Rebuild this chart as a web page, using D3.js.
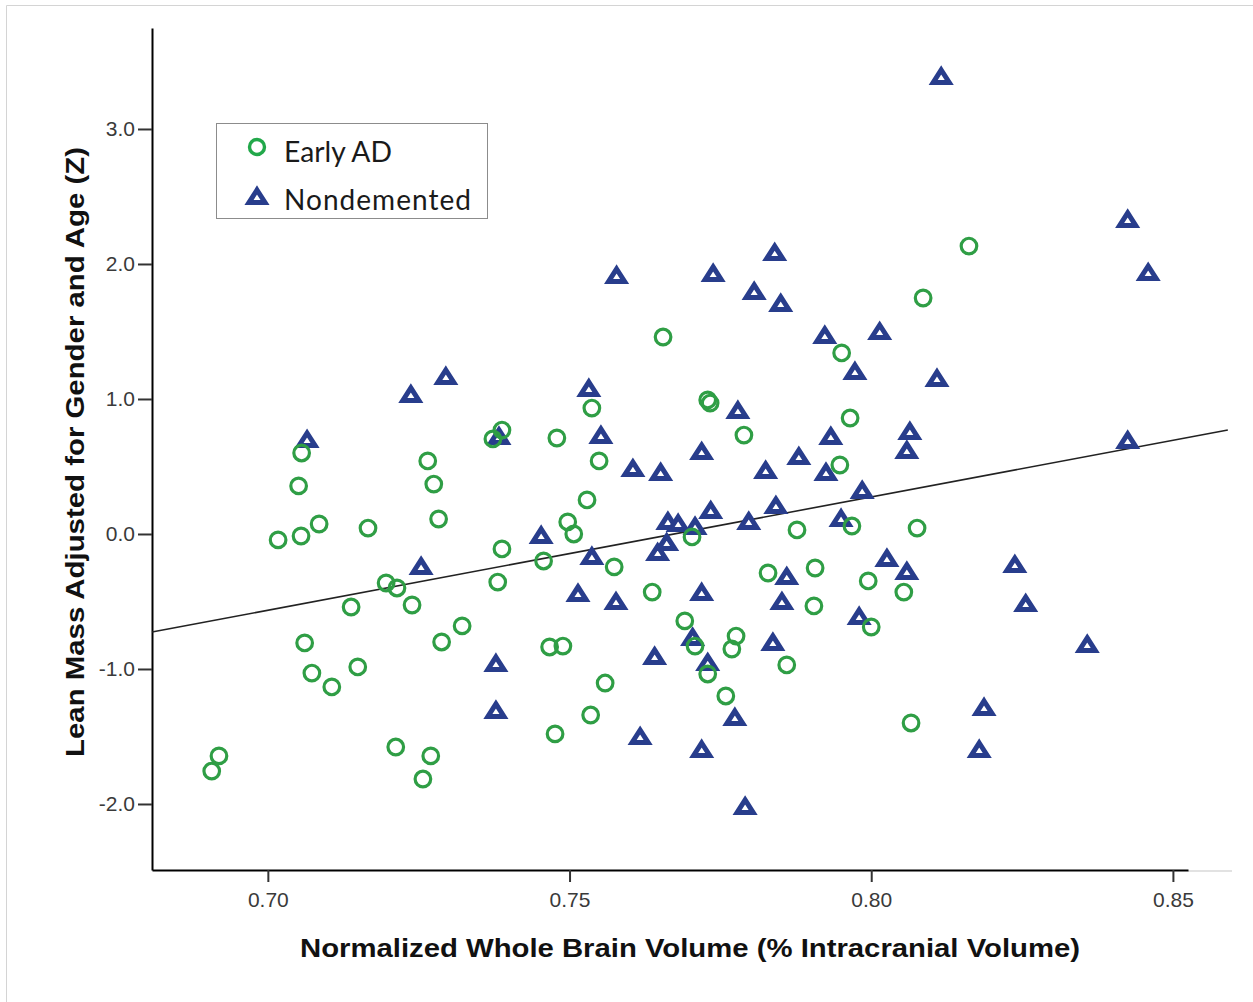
<!DOCTYPE html>
<html>
<head>
<meta charset="utf-8">
<script src="https://cdn.jsdelivr.net/npm/d3@7"></script>
<style>
  html, body { margin: 0; padding: 0; background: #fff; }
  svg { display: block; }
</style>
</head>
<body>
<svg id="chart" width="1253" height="1002"></svg>
<script>
// ---- Data ----
const earlyAD_x = [0.6907,0.6919,0.7017,0.7055,0.7085,0.7051,0.7056,0.7061,0.7073,0.7106,
  0.7138,0.7149,0.7166,0.7196,0.7214,0.7239,0.7212,0.7257,0.7270,0.7265,
  0.7275,0.7283,0.7288,0.7322,0.7373,0.7388,0.7388,0.7381,0.7457,0.7467,
  0.7489,0.7476,0.7479,0.7497,0.7507,0.7529,0.7537,0.7549,0.7574,0.7559,
  0.7535,0.7637,0.7655,0.7691,0.7708,0.7703,0.7729,0.7733,0.7729,0.7759,
  0.7776,0.7769,0.7789,0.7829,0.7860,0.7877,0.7907,0.7905,0.7951,0.7948,
  0.7965,0.7968,0.7995,0.8000,0.8054,0.8076,0.8066,0.8086,0.8162];
const earlyAD_y = [-1.756,-1.644,-0.044,-0.015,0.074,0.356,0.600,-0.807,-1.030,-1.133,
  -0.541,-0.985,0.044,-0.363,-0.400,-0.526,-1.578,-1.815,-1.644,0.541,
  0.370,0.111,-0.800,-0.681,0.704,0.770,-0.111,-0.356,-0.200,-0.837,
  -0.830,-1.481,0.711,0.089,0.000,0.252,0.933,0.541,-0.244,-1.104,
  -1.341,-0.430,1.459,-0.644,-0.830,-0.022,0.993,0.970,-1.037,-1.200,
  -0.756,-0.852,0.733,-0.289,-0.970,0.030,-0.252,-0.533,1.341,0.511,
  0.859,0.059,-0.348,-0.689,-0.430,0.044,-1.400,1.748,2.133];

const nonDem_x = [0.7065,0.7237,0.7295,0.7254,0.7383,0.7378,0.7378,0.7453,0.7514,0.7532,
  0.7552,0.7537,0.7578,0.7577,0.7617,0.7605,0.7641,0.7651,0.7646,0.7661,
  0.7663,0.7680,0.7708,0.7719,0.7734,0.7738,0.7779,0.7719,0.7704,0.7729,
  0.7719,0.7797,0.7806,0.7840,0.7850,0.7825,0.7842,0.7837,0.7791,0.7774,
  0.7852,0.7860,0.7880,0.7923,0.7933,0.7925,0.7950,0.7985,0.7980,0.7973,
  0.8014,0.8026,0.8059,0.8064,0.8059,0.8109,0.8116,0.8238,0.8256,0.8358,
  0.8187,0.8179,0.8425,0.8459,0.8425];
const nonDem_y = [0.696,1.030,1.163,-0.244,0.719,-0.963,-1.311,-0.015,-0.444,1.074,
  0.726,-0.170,1.911,-0.504,-1.504,0.481,-0.911,0.452,-0.141,-0.067,
  0.089,0.074,0.052,0.607,0.170,1.926,0.911,-0.437,-0.770,-0.956,
  -1.600,0.089,1.793,2.081,1.704,0.467,0.207,-0.807,-2.022,-1.363,
  -0.504,-0.319,0.570,1.467,0.719,0.452,0.111,0.319,-0.615,1.200,
  1.496,-0.185,-0.281,0.756,0.615,1.148,3.385,-0.230,-0.519,-0.822,
  -1.289,-1.600,2.326,1.933,0.689];

// fit line endpoints (as drawn)
const fitX = [0.6808, 0.8591];
const fitY = [-0.726, 0.770];

const xTicks = [0.70, 0.75, 0.80, 0.85];
const yTicks = [-2, -1, 0, 1, 2, 3];
const seriesNames = ["Early AD", "Nondemented"];
const xTitle = "Normalized Whole Brain Volume (% Intracranial Volume)";
const yTitle = "Lean Mass Adjusted for Gender and Age (Z)";

// ---- Drawing ----
const green = "#2f9e45";
const navy = "#283d8c";
const svg = d3.select("#chart");

// faint frame (top and left edges only visible in the reference)
svg.append("path").attr("d", "M6.5,1002V5.5H1253")
  .attr("fill", "none").attr("stroke", "#d4d4d4").attr("stroke-width", 1);

const x = d3.scaleLinear().domain([0.6808, 0.8525]).range([152, 1188]);
const y = d3.scaleLinear().domain([-2.489, 3.748]).range([870, 28]);

const tickFont = "Liberation Sans, Arial, sans-serif";

// faint extension of the x axis beyond its end
svg.append("line").attr("x1", 1188).attr("x2", 1232).attr("y1", 871).attr("y2", 871)
  .attr("stroke", "#e2e2e2").attr("stroke-width", 2);

// Y axis
const yAxis = svg.append("g").attr("transform", "translate(152,0)")
  .call(d3.axisLeft(y).tickValues(yTicks).tickFormat(d => d.toFixed(1)).tickSize(14).tickPadding(3).tickSizeOuter(0));
yAxis.select(".domain").attr("stroke", "#000").attr("stroke-width", 2);
yAxis.selectAll(".tick line").attr("stroke", "#333").attr("stroke-width", 2);
yAxis.selectAll(".tick text").attr("fill", "#3a3a3a").style("font-family", tickFont).style("font-size", "21px");

// X axis
const xAxis = svg.append("g").attr("transform", "translate(0,870)")
  .call(d3.axisBottom(x).tickValues(xTicks).tickFormat(d => d.toFixed(2)).tickSize(12).tickPadding(10).tickSizeOuter(0));
xAxis.select(".domain").attr("stroke", "#000").attr("stroke-width", 2);
xAxis.selectAll(".tick line").attr("stroke", "#333").attr("stroke-width", 2);
xAxis.selectAll(".tick text").attr("fill", "#3a3a3a").style("font-family", tickFont).style("font-size", "21px");

// Axis titles
svg.append("text").attr("x", 690).attr("y", 957).attr("text-anchor", "middle")
  .style("font-family", "Liberation Sans, Arial, sans-serif").style("font-weight", "bold")
  .style("font-size", "25px").attr("fill", "#111")
  .attr("textLength", 780).attr("lengthAdjust", "spacingAndGlyphs")
  .text(xTitle);

svg.append("text").attr("transform", "translate(84,452) rotate(-90)").attr("text-anchor", "middle")
  .style("font-family", "Liberation Sans, Arial, sans-serif").style("font-weight", "bold")
  .style("font-size", "25px").attr("fill", "#111")
  .attr("textLength", 610).attr("lengthAdjust", "spacingAndGlyphs")
  .text(yTitle);

// Fit line
svg.append("line")
  .attr("x1", x(fitX[0])).attr("y1", y(fitY[0]))
  .attr("x2", x(fitX[1])).attr("y2", y(fitY[1]))
  .attr("stroke", "#222").attr("stroke-width", 1.6);

// Markers
const triPath = "M0,-7L8,5.5L-8,5.5Z";

const ptsAD = earlyAD_x.map((v, i) => ({ x: v, y: earlyAD_y[i] }));
const ptsND = nonDem_x.map((v, i) => ({ x: v, y: nonDem_y[i] }));

svg.append("g").selectAll("path").data(ptsND).join("path")
  .attr("d", triPath)
  .attr("transform", d => `translate(${x(d.x)},${y(d.y)})`)
  .attr("fill", "#fff").attr("stroke", navy).attr("stroke-width", 5)
  .attr("stroke-linejoin", "miter");

svg.append("g").selectAll("circle").data(ptsAD).join("circle")
  .attr("cx", d => x(d.x)).attr("cy", d => y(d.y)).attr("r", 7.8)
  .attr("fill", "none").attr("stroke", green).attr("stroke-width", 3.2);

// Legend
const lg = svg.append("g");
lg.append("rect").attr("x", 216.5).attr("y", 123.5).attr("width", 271).attr("height", 95)
  .attr("fill", "#fff").attr("stroke", "#8c8c8c").attr("stroke-width", 1);
lg.append("circle").attr("cx", 257).attr("cy", 147).attr("r", 7.5)
  .attr("fill", "none").attr("stroke", "#22a84a").attr("stroke-width", 3.4);
lg.append("path").attr("d", triPath).attr("transform", "translate(257,197)")
  .attr("fill", "#fff").attr("stroke", navy).attr("stroke-width", 5);
const legFont = "Lato, 'Open Sans', sans-serif";
lg.append("text").attr("x", 284).attr("y", 162).text(seriesNames[0])
  .style("font-family", legFont).style("font-size", "28px").attr("fill", "#1a1a1a")
  .attr("textLength", 108).attr("lengthAdjust", "spacingAndGlyphs");
lg.append("text").attr("x", 284).attr("y", 210).text(seriesNames[1])
  .style("font-family", legFont).style("font-size", "28px").attr("fill", "#1a1a1a")
  .attr("textLength", 187).attr("lengthAdjust", "spacing");
</script>
</body>
</html>
